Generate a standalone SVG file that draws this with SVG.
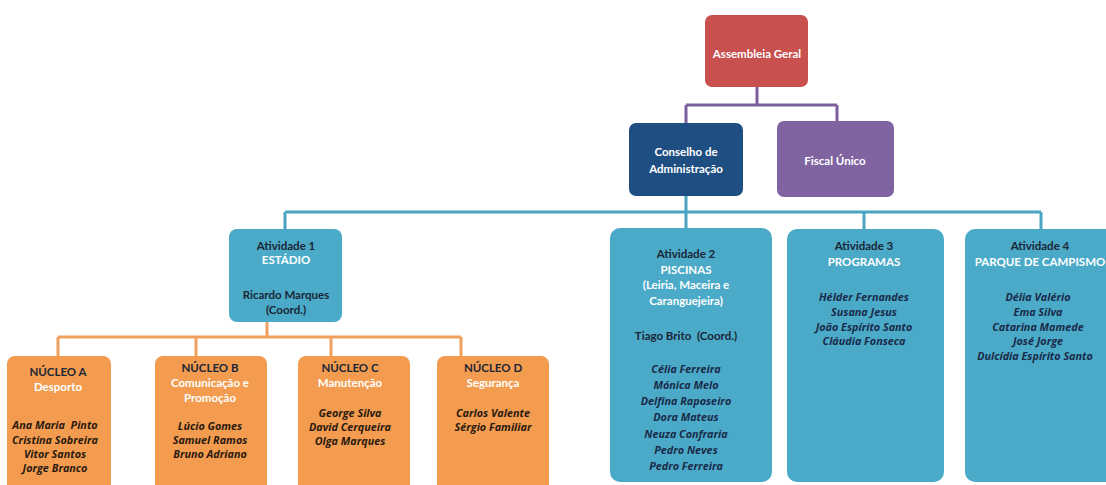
<svg xmlns="http://www.w3.org/2000/svg" width="1106" height="485" viewBox="0 0 1106 485">
<style>
text{font-family:Lato,"Open Sans","DejaVu Sans",sans-serif;font-size:11.5px;font-weight:bold;text-anchor:middle;dominant-baseline:central}
.w{fill:#ffffff}
.d{fill:#1b2636}
.n{fill:#1a2a48;font-style:italic;font-family:"Open Sans","DejaVu Sans",sans-serif;font-size:10.8px}
.nb{fill:#2a1a10;font-style:italic;font-family:"Open Sans","DejaVu Sans",sans-serif;font-size:10.8px}
.red{fill:#c8504f}
.navy{fill:#1f4e82}
.purple{fill:#8064a2}
.teal{fill:#4aaac8}
.orange{fill:#f39c4f}
.cp{stroke:#7b5f9c;stroke-width:3;fill:none}
.ct{stroke:#4aa3c2;stroke-width:3;fill:none}
.co{stroke:#f0a05e;stroke-width:3;fill:none}
</style>
<rect width="1106" height="485" fill="#ffffff"/>
<g id="connectors">
<path class="cp" d="M757 87 V105 M686 105 H837 M686 105 V123 M837 105 V121"/>
<path class="ct" d="M686 196 V229 M285 212 H1041 M285 212 V229 M864 212 V229 M1041 212 V229"/>
<path class="co" d="M267 322 V337 M58 337 H461 M58 337 V356 M196 337 V356 M331 337 V356 M461 337 V356"/>
</g>
<g id="assembleia">
<rect class="red" x="705" y="15" width="103" height="72" rx="7"/>
<text class="w" x="757" y="53">Assembleia Geral</text>
</g>
<g id="conselho">
<rect class="navy" x="629" y="123" width="114" height="73" rx="7"/>
<text class="w" x="686" y="151">Conselho de</text>
<text class="w" x="686" y="168">Administração</text>
</g>
<g id="fiscal">
<rect class="purple" x="777" y="121" width="117" height="76" rx="7"/>
<text class="w" x="835" y="160">Fiscal Único</text>
</g>
<g id="atividade1">
<rect class="teal" x="229" y="229" width="113" height="93" rx="8"/>
<text class="d" x="286" y="245">Atividade 1</text>
<text class="w" x="286" y="259">ESTÁDIO</text>
<text class="d" x="286" y="294">Ricardo Marques</text>
<text class="d" x="286" y="309">(Coord.)</text>
</g>
<g id="nucleoA">
<rect class="orange" x="7" y="356" width="104" height="140" rx="8"/>
<text class="d" x="58" y="371">NÚCLEO A</text>
<text class="w" x="58" y="386">Desporto</text>
<text class="nb" x="55" y="424" xml:space="preserve">Ana Maria  Pinto</text>
<text class="nb" x="55" y="439">Cristina Sobreira</text>
<text class="nb" x="55" y="453">Vitor Santos</text>
<text class="nb" x="55" y="467">Jorge Branco</text>
</g>
<g id="nucleoB">
<rect class="orange" x="155" y="356" width="112" height="140" rx="8"/>
<text class="d" x="210" y="367">NÚCLEO B</text>
<text class="w" x="210" y="382">Comunicação e</text>
<text class="w" x="210" y="397">Promoção</text>
<text class="nb" x="210" y="425">Lúcio Gomes</text>
<text class="nb" x="210" y="439">Samuel Ramos</text>
<text class="nb" x="210" y="453">Bruno Adriano</text>
</g>
<g id="nucleoC">
<rect class="orange" x="298" y="356" width="112" height="140" rx="8"/>
<text class="d" x="350" y="367">NÚCLEO C</text>
<text class="w" x="350" y="382">Manutenção</text>
<text class="nb" x="350" y="412">George Silva</text>
<text class="nb" x="350" y="426">David Cerqueira</text>
<text class="nb" x="350" y="440">Olga Marques</text>
</g>
<g id="nucleoD">
<rect class="orange" x="437" y="356" width="112" height="140" rx="8"/>
<text class="d" x="493" y="367">NÚCLEO D</text>
<text class="w" x="493" y="382">Segurança</text>
<text class="nb" x="493" y="412">Carlos Valente</text>
<text class="nb" x="493" y="426">Sérgio Familiar</text>
</g>
<g id="atividade2">
<rect class="teal" x="610" y="228" width="162" height="254" rx="10"/>
<text class="d" x="686" y="253">Atividade 2</text>
<text class="w" x="686" y="269">PISCINAS</text>
<text class="w" x="686" y="284">(Leiria, Maceira e</text>
<text class="w" x="686" y="300">Caranguejeira)</text>
<text class="d" x="686" y="335" xml:space="preserve">Tiago Brito  (Coord.)</text>
<text class="n" x="686" y="368">Célia Ferreira</text>
<text class="n" x="686" y="384">Mónica Melo</text>
<text class="n" x="686" y="400">Delfina Raposeiro</text>
<text class="n" x="686" y="416">Dora Mateus</text>
<text class="n" x="686" y="433">Neuza Confraria</text>
<text class="n" x="686" y="449">Pedro Neves</text>
<text class="n" x="686" y="465">Pedro Ferreira</text>
</g>
<g id="atividade3">
<rect class="teal" x="787" y="229" width="157" height="253" rx="10"/>
<text class="d" x="864" y="245">Atividade 3</text>
<text class="w" x="864" y="261">PROGRAMAS</text>
<text class="n" x="864" y="296">Hélder Fernandes</text>
<text class="n" x="864" y="311">Susana Jesus</text>
<text class="n" x="864" y="326">João Espírito Santo</text>
<text class="n" x="864" y="340">Cláudia Fonseca</text>
</g>
<g id="atividade4">
<rect class="teal" x="965" y="229" width="150" height="253" rx="10"/>
<text class="d" x="1040" y="245">Atividade 4</text>
<text class="w" x="1040" y="261">PARQUE DE CAMPISMO</text>
<text class="n" x="1038" y="296">Délia Valério</text>
<text class="n" x="1038" y="311">Ema Silva</text>
<text class="n" x="1038" y="326">Catarina Mamede</text>
<text class="n" x="1038" y="340">José Jorge</text>
<text class="n" x="1035" y="355">Dulcídia Espírito Santo</text>
</g>
</svg>
